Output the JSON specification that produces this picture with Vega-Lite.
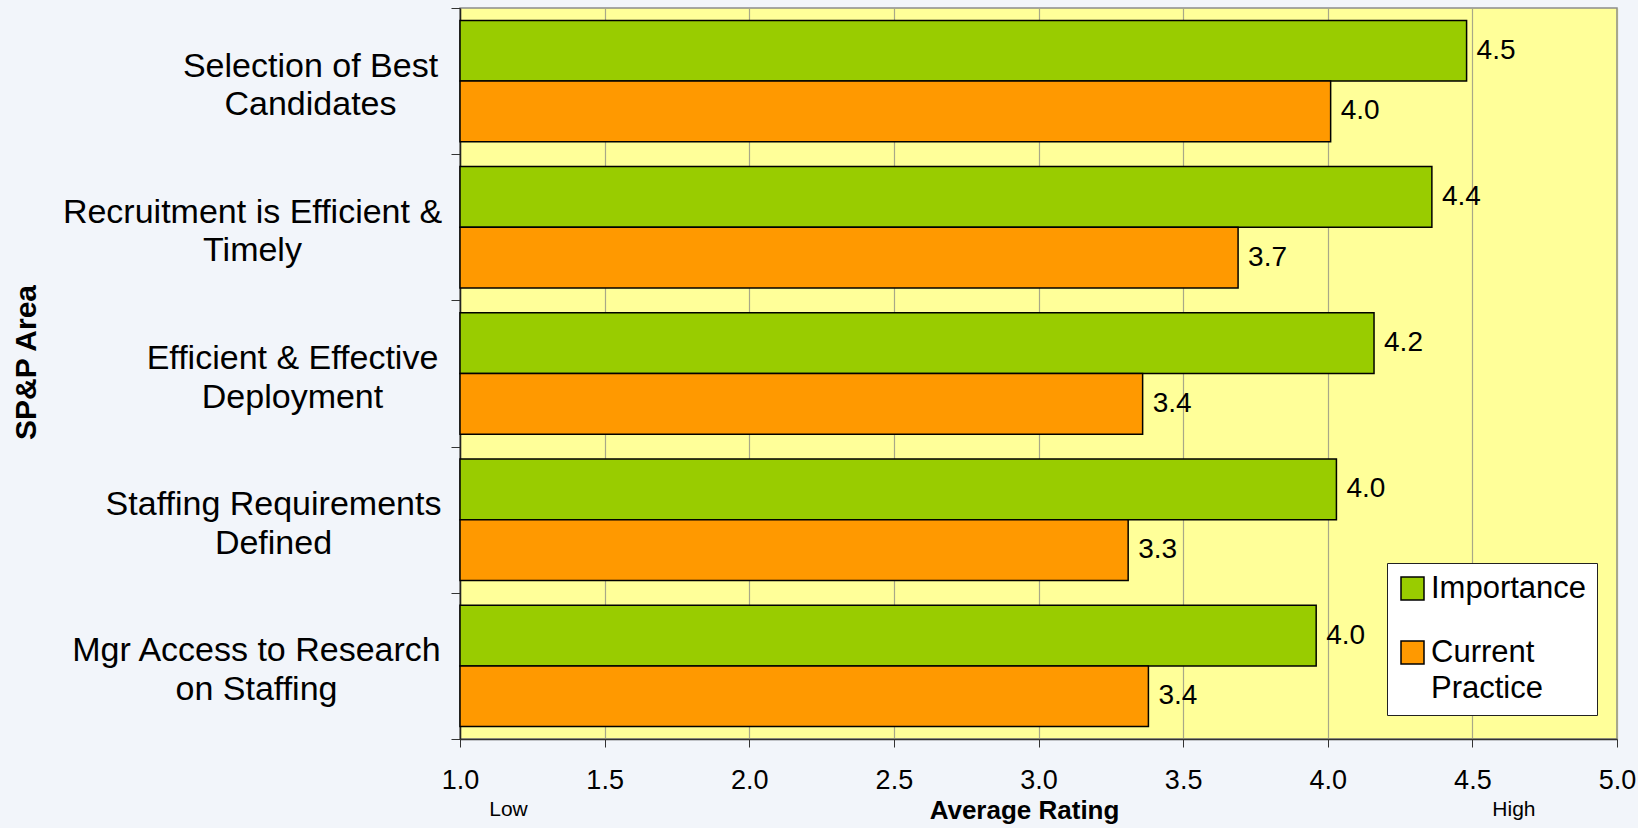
{
  "$schema": "https://vega.github.io/schema/vega-lite/v6.json",
  "width": 1157,
  "height": 731,
  "autosize": {"type": "none"},
  "padding": {"left": 460, "top": 8, "right": 21, "bottom": 89},
  "background": "#F2F5FA",
  "config": {
    "view": {"fill": "#FFFF99", "stroke": "#8C8C8C", "strokeWidth": 1.5},
    "font": "Liberation Sans",
    "style": {"guide-label": {"lineHeight": 36.7}}
  },
  "data": {
    "values": [
      {"area": "Selection of Best|Candidates", "series": "Importance", "rating": 4.48},
      {"area": "Selection of Best|Candidates", "series": "Current Practice", "rating": 4.01},
      {"area": "Recruitment is Efficient &|Timely", "series": "Importance", "rating": 4.36},
      {"area": "Recruitment is Efficient &|Timely", "series": "Current Practice", "rating": 3.69},
      {"area": "Efficient & Effective|Deployment", "series": "Importance", "rating": 4.16},
      {"area": "Efficient & Effective|Deployment", "series": "Current Practice", "rating": 3.36},
      {"area": "Staffing Requirements|Defined", "series": "Importance", "rating": 4.03},
      {"area": "Staffing Requirements|Defined", "series": "Current Practice", "rating": 3.31},
      {"area": "Mgr Access to Research|on Staffing", "series": "Importance", "rating": 3.96},
      {"area": "Mgr Access to Research|on Staffing", "series": "Current Practice", "rating": 3.38}
    ]
  },
  "encoding": {
    "y": {
      "field": "area",
      "type": "nominal",
      "sort": ["Selection of Best|Candidates", "Recruitment is Efficient &|Timely", "Efficient & Effective|Deployment", "Staffing Requirements|Defined", "Mgr Access to Research|on Staffing"],
      "scale": {"paddingInner": 0, "paddingOuter": 0},
      "axis": {
        "title": "SP&P Area",
        "titleFontSize": 30,
        "titleFontWeight": "bold",
        "titleColor": "#000000",
        "titleX": -434,
        "titleY": 354,
        "titleAngle": -90,
        "titleBaseline": "middle",
        "titleAlign": "center",
        "labelExpr": "split(datum.label, '|')",
        "labelFontSize": 34,
        "labelLineHeight": 38.7,
        "labelAlign": "center",
        "labelBaseline": "middle",
        "labelOffset": -15,
        "labelColor": "#000000",
        "labelLimit": 1000,
        "labelPadding": {"expr": "datum.value == 'Selection of Best|Candidates' ? 141 : datum.value == 'Recruitment is Efficient &|Timely' ? 199 : datum.value == 'Efficient & Effective|Deployment' ? 159 : datum.value == 'Staffing Requirements|Defined' ? 178 : 195"},
        "tickBand": "extent",
        "tickSize": 9,
        "tickColor": "#333333",
        "domainColor": "#222222",
        "domainWidth": 1.5,
        "grid": false
      }
    },
    "yOffset": {"field": "series", "sort": ["Importance", "Current Practice"], "scale": {"paddingInner": 0, "paddingOuter": 0.2045}},
    "x": {
      "field": "rating",
      "type": "quantitative",
      "scale": {"domain": [1, 5], "nice": false, "zero": false},
      "axis": {
        "title": "Average Rating",
        "titleFontSize": 26,
        "titleFontWeight": "bold",
        "titleColor": "#000000",
        "titleX": 564,
        "titleY": 58,
        "titleBaseline": "top",
        "titleAlign": "center",
        "values": [1, 1.166, 1.5, 2, 2.5, 3, 3.5, 4, 4.5, 4.642, 5],
        "labelExpr": "datum.value == 1.166 ? ['', 'Low'] : datum.value == 4.642 ? ['', 'High'] : format(datum.value, '.1f')",
        "labelFontSize": {"condition": {"test": "datum.value == 1.166 || datum.value == 4.642", "value": 21}, "value": 27},
        "labelLineHeight": 31.5,
        "labelPadding": 20,
        "labelFlush": false,
        "labelOverlap": false,
        "labelColor": "#000000",
        "tickSize": 8,
        "tickColor": "#333333",
        "tickOpacity": {"condition": {"test": "datum.value == 1.166 || datum.value == 4.642", "value": 0}, "value": 1},
        "grid": true,
        "gridColor": "#A8A888",
        "gridWidth": 1.2,
        "gridOpacity": {"condition": {"test": "datum.value == 1.166 || datum.value == 4.642", "value": 0}, "value": 1},
        "domainColor": "#333333",
        "domainWidth": 1.5
      }
    }
  },
  "layer": [
    {
      "mark": {"type": "bar", "stroke": "#000000", "strokeWidth": 1.5},
      "encoding": {
        "x2": {"datum": 1},
        "color": {
          "field": "series",
          "type": "nominal",
          "scale": {"domain": ["Importance", "Current Practice"], "range": ["#99CC00", "#FF9900"]},
          "legend": {
            "title": null,
            "orient": "none",
            "legendX": 927,
            "legendY": 555,
            "fillColor": "#FFFFFF",
            "strokeColor": "#222222",
            "padding": 10,
            "symbolType": "square",
            "symbolSize": 529,
            "symbolStrokeColor": "#000000",
            "symbolStrokeWidth": 1.5,
            "symbolOpacity": 1,
            "labelFontSize": 31,
            "labelColor": "#000000",
            "labelLimit": 400,
            "labelOffset": 3,
            "rowPadding": 32,
            "labelExpr": "datum.label == 'Current Practice' ? ['Current', 'Practice'] : datum.label"
          }
        }
      }
    },
    {
      "mark": {"type": "text", "align": "left", "baseline": "middle", "dx": 10, "fontSize": 28, "color": "#000000"},
      "encoding": {
        "text": {"field": "rating", "type": "quantitative", "format": ".1f"}
      }
    }
  ]
}
